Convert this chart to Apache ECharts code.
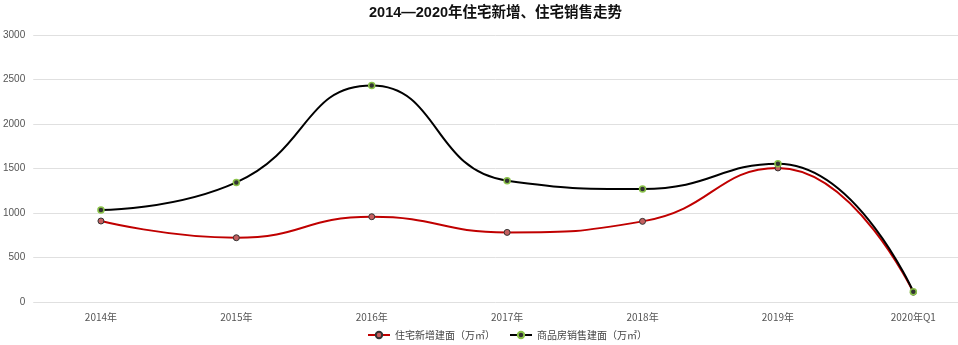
<!DOCTYPE html>
<html>
<head>
<meta charset="utf-8">
<script src="https://cdn.jsdelivr.net/npm/echarts@6/dist/echarts.min.js"></script>
<style>html,body{margin:0;padding:0;background:#fff;}#c{width:958px;height:345px;}</style>
</head>
<body>
<div id="c"></div>
<script>
var categories = ['2014年','2015年','2016年','2017年','2018年','2019年','2020年Q1'];
var newBuild = [910, 722, 958, 782, 906, 1506, 110];
var sales = [1034, 1344, 2432, 1363, 1270, 1554, 114];
var yTicks = [0, 500, 1000, 1500, 2000, 2500, 3000];

function pairs(arr){ return arr.map(function(v,i){ return [i, v]; }); }

var chart = echarts.init(document.getElementById('c'));
chart.setOption({
  animation: false,
  title: {
    text: '2014—2020年住宅新增、住宅销售走势',
    left: 364, top: 1,
    textStyle: {fontFamily: 'Liberation Sans, Noto Sans CJK SC', fontSize: 14.5, fontWeight: 'bold', color: '#111'}
  },
  legend: {
    bottom: 0, left: 362, itemGap: 14, itemWidth: 22, itemHeight: 8,
    textStyle: {fontSize: 10, color: '#444', fontFamily: 'Noto Sans CJK SC'},
    data: ['住宅新增建面（万㎡）', '商品房销售建面（万㎡）']
  },
  grid: {left: 32, right: 0, top: 35, bottom: 43, containLabel: false},
  xAxis: {
    type: 'value', min: -0.5, max: 6.33,
    axisLine: {show: false}, axisTick: {show: false}, splitLine: {show: false},
    axisLabel: {
      customValues: [0,1,2,3,4,5,6],
      formatter: function(v){ return categories[Math.round(v)]; },
      color: '#555', fontSize: 10, margin: 10, fontFamily: 'Noto Sans CJK SC'
    }
  },
  yAxis: {
    type: 'value', min: yTicks[0], max: yTicks[yTicks.length-1], interval: 500,
    axisLine: {show: false}, axisTick: {show: false},
    splitLine: {lineStyle: {color: '#e0e0e0', width: 1}},
    axisLabel: {color: '#555', fontSize: 10, margin: 8, fontFamily: 'Liberation Sans',
      formatter: function(v){ return String(v); }}
  },
  series: [
    {
      name: '住宅新增建面（万㎡）', type: 'line', smooth: 0.5,
      data: pairs(newBuild), symbol: 'circle', symbolSize: 6,
      lineStyle: {color: '#c00000', width: 2},
      itemStyle: {color: '#c46060', borderColor: '#333', borderWidth: 1}
    },
    {
      name: '商品房销售建面（万㎡）', type: 'line', smooth: 0.5,
      data: pairs(sales), symbol: 'circle', symbolSize: 6,
      lineStyle: {color: '#000', width: 2},
      itemStyle: {color: '#333', borderColor: '#8bc34a', borderWidth: 1.5}
    }
  ]
});
</script>
</body>
</html>
